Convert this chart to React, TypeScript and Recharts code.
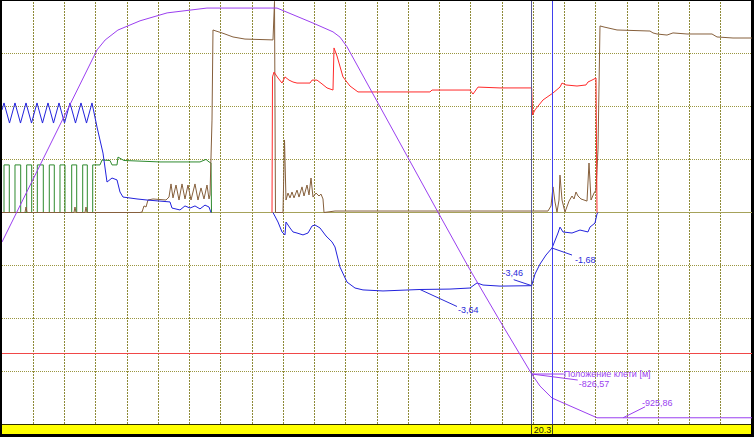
import React from 'react';
import { ComposedChart, Line, XAxis, YAxis, ReferenceLine, ReferenceDot } from 'recharts';

// time axis (s), 1.2 s per division
const timeTicks = [0, 1.2, 2.4, 3.6, 4.8, 6, 7.2, 8.4, 9.6, 10.8, 12, 13.2, 14.4, 15.6, 16.8, 18, 19.2, 20.4, 21.6, 22.8, 24, 25.2, 26.4, 27.6, 28.8];
// horizontal grid rows on the signal axis (2.5 per division)
const gridRows = [-7.5, -5, -2.5, 2.5, 5, 7.5];

// Положение клети [м]
const purpleT = [0, 3.65, 3.96, 4.45, 5.30, 6.34, 7.87, 10.56, 11.94, 12.71, 12.98, 13.25, 16.74, 17.97, 19.12, 20.34, 20.66, 21.12, 22.85, 28.8];
const purpleV = [-527, -91, -68.5, -46, -25, -7, 4, 4, -30, -50, -62, -84, -459, -590, -706, -826.57, -854, -881, -925.86, -925.86];

const blueT = [
  0, 0.077, 0.288, 0.499, 0.710, 0.922, 1.133, 1.344, 1.555, 1.766, 1.978, 2.189, 2.400, 2.611, 2.822, 3.034, 3.245, 3.456,
  3.648, 3.878, 4.032, 4.224, 4.416, 4.531, 4.646, 5.184, 5.568, 6.451, 6.528, 6.835, 7.027, 7.219, 7.411, 7.603, 7.795, 7.949, 8.026,
  8.05,
  10.406, 10.598, 10.752, 10.867, 10.906, 11.059, 11.174, 11.328, 11.558, 11.750,
  11.904, 12.019, 12.211, 12.442, 12.672, 12.787, 12.979, 13.248, 13.555, 13.862,
  14.630, 16.051, 17.203, 17.971, 18.125, 18.240, 18.470, 19.123, 20.34, 20.467,
  20.659, 20.890, 21.120, 21.350, 21.427, 21.542, 21.888, 22.195, 22.502, 22.579,
  22.771, 22.848, 22.886,
];
const blueV = [
  4.85, 5.18, 4.23, 5.18, 4.23, 5.18, 4.23, 5.18, 4.23, 5.18, 4.23, 5.18, 4.23, 5.18, 4.23, 5.18, 4.23, 5.18,
  4.04, 2.81, 1.44, 1.63, 1.54, 0.97, 0.73, 0.64, 0.59, 0.50, 0.21, 0.12, 0.31, 0.21, 0.31, 0.17, 0.35, 0.26, 0,
  null,
  0, -0.45, -0.92, -1.06, -0.45, -0.73, -0.92, -0.97, -1.06, -0.97,
  -0.64, -0.59, -0.73, -1.11, -1.39, -1.63, -2.58, -3.29, -3.57, -3.66,
  -3.71, -3.64, -3.62, -3.57, -3.43, -3.33, -3.43, -3.48, -3.46, -2.91,
  -2.44, -2.01, -1.68, -0.97, -0.69, -0.92, -0.97, -0.83, -0.92, -0.69,
  -0.50, -0.07, 0,
];

const greenT = [
  0, 0.077, 0.077, 0.280, 0.280, 0.499, 0.499, 0.718, 0.718, 0.948, 0.948, 1.140, 1.140, 1.356, 1.356, 1.586, 1.586,
  1.816, 1.816, 2.008, 2.008, 2.227, 2.227, 2.419, 2.419, 2.676, 2.676, 2.868, 2.868, 3.099, 3.099, 3.276, 3.276, 3.483, 3.483,
  3.763, 3.840, 4.147, 4.224, 4.416, 4.454, 4.608, 4.685, 6.067, 7.603, 7.834, 7.949, 8.026, 8.045,
];
const greenV = [
  0, 0, 2.25, 2.25, 0, 0, 2.25, 2.25, 0, 0, 2.25, 2.25, 0, 0, 2.25, 2.25, 0,
  0, 2.25, 2.25, 0, 0, 2.25, 2.25, 0, 0, 2.25, 2.25, 0, 0, 2.25, 2.25, 0, 0, 2.25,
  2.25, 2.48, 2.46, 2.25, 2.25, 2.62, 2.51, 2.46, 2.39, 2.39, 2.51, 2.39, 2.34, 0,
];

const brownT = [
  0, 0.883, 0.922, 0.960, 2.765, 2.803, 2.842, 3.187, 3.226, 3.264,
  5.299, 5.376, 5.453, 5.530, 5.606, 5.798, 6.298, 6.413, 6.490, 6.566,
  6.682, 6.797, 6.912, 7.027, 7.142, 7.258, 7.411, 7.526, 7.642, 7.757,
  7.872, 7.949, 7.987, 8.064, 8.102, 8.218, 8.448, 8.870, 9.331, 10.406,
  10.464, 10.502, 10.790, 10.848, 10.906, 10.982, 11.059, 11.136, 11.213, 11.328,
  11.405, 11.520, 11.597, 11.712, 11.789, 11.866, 11.942, 12.058, 12.173, 12.250,
  12.326, 12.365, 12.787, 20.966, 21.082, 21.158, 21.235, 21.312, 21.389, 21.427,
  21.504, 21.619, 21.773, 21.888, 21.965, 22.042, 22.118, 22.234, 22.464, 22.541,
  22.618, 22.733, 22.810, 22.886, 22.963, 23.117, 23.616, 24.883, 24.998, 25.152,
  25.536, 25.766, 26.304, 27.264, 27.456, 28.070, 28.8,
];
const brownV = [
  0, 0, 0.26, 0, 0, 0.26, 0, 0, 0.26, 0,
  0, 0.02, 0.31, 0.26, 0.59, 0.64, 0.59, 0.73, 1.35, 0.69,
  1.30, 0.59, 1.35, 0.64, 1.30, 0.59, 1.35, 0.59, 1.16, 0.64,
  1.30, 0.64, 0.83, 4.37, 8.63, 8.58, 8.49, 8.30, 8.20, 8.16,
  9.98, 0, 0, 3.43, 0.59, 0.92, 0.69, 0.97, 0.69, 1.06,
  0.73, 1.21, 0.78, 1.30, 0.83, 1.63, 0.73, 0.92, 0.78, 0.87,
  0.64, 0, 0.07, 0.07, 0.31, 1.21, 0.50, 0.02, 0.59, 1.77,
  0.59, 0.02, 0.54, 0.78, 0.64, 0.97, 0.78, 0.64, 0.54, 2.34,
  0.59, 0.92, 1.06, 2.96, 8.82, 8.77, 8.63, 8.58, 8.49, 8.44,
  8.39, 8.49, 8.44, 8.44, 8.30, 8.25, 8.25,
];

const redT = [
  10.368, 10.387, 10.445, 10.598, 10.752, 10.867, 11.021, 11.174, 11.328, 11.827,
  11.904, 12.096, 12.288, 12.480, 12.710, 12.749, 12.864, 13.094, 13.363, 13.670,
  16.435, 16.512, 17.971, 18.086, 18.278, 19.123, 20.34, 20.37, 20.467, 20.774,
  21.158, 21.427, 21.504, 21.658, 22.080, 22.426, 22.502, 22.656, 22.810, 22.848,
];
const redV = [
  0, 6.41, 6.64, 6.36, 6.12, 6.41, 6.26, 6.17, 6.12, 6.12,
  6.26, 6.26, 6.08, 5.89, 5.79, 7.78, 7.40, 6.41, 5.98, 5.70,
  5.70, 5.79, 5.79, 5.60, 5.93, 5.89, 5.89, 4.61, 4.85, 5.32,
  5.65, 5.93, 6.12, 6.03, 5.98, 6.03, 6.17, 6.26, 6.36, 0,
];

// position limit line [м]
const limitPosition = [-780];
const cursorMain = 20.34;
const cursorMainLabel = '20.3';
const cursorSecond = 21.12;

// annotation values
const notes = [
  { t: 16.051, v: -3.64, axis: 'aux', text: '-3,64' },
  { t: 20.34, v: -3.46, axis: 'aux', text: '-3,46' },
  { t: 21.12, v: -1.68, axis: 'aux', text: '-1,68' },
  { t: 20.34, v: -826.57, axis: 'pos', text: 'Положение клети [м]' },
  { t: 20.34, v: -826.57, axis: 'pos', text: '-826,57' },
  { t: 23.85, v: -925.86, axis: 'pos', text: '-925,86' },
];

// label leader geometry (px offsets) — styling only
const noteLayout = [
  { lx: 37, ly: 17, tx: 38, ty: 21, anchor: 'start', color: '#2a2ad8' },
  { lx: -18, ly: -6, tx: -19, ty: -12.5, anchor: 'middle', color: '#2a2ad8' },
  { lx: 20, ly: 7, tx: 23, ty: 11.5, anchor: 'start', color: '#2a2ad8' },
  { lx: 32, ly: 0, tx: 32, ty: -0.5, anchor: 'start', color: '#9b3ff0' },
  { lx: 46, ly: 6, tx: 47, ty: 9.8, anchor: 'start', color: '#9b3ff0' },
  { lx: 22, ly: -11, tx: 19, ty: -14.5, anchor: 'start', color: '#9b3ff0' },
];

const zip = (ts: number[], vs: (number | null)[]) => ts.map((t, i) => ({ t, v: vs[i] }));
const purpleData = zip(purpleT, purpleV);
const blueData = zip(blueT, blueV);
const greenData = zip(greenT, greenV);
const brownData = zip(brownT, brownV);
const redData = zip(redT, redV);
const limitData = [{ t: 0, v: limitPosition[0] }, { t: 28.8, v: limitPosition[0] }];

const FONT = '"Liberation Sans", Arial, sans-serif';
const GRID = '#9a9640';
const GRID_V = '#8e8a38';

function NoteLabel(props: any) {
  const { viewBox, layout, text } = props;
  if (!viewBox) return null;
  const cx = viewBox.x + (viewBox.width || 0) / 2;
  const cy = viewBox.y + (viewBox.height || 0) / 2;
  return (
    <g>
      <line x1={cx} y1={cy} x2={cx + layout.lx} y2={cy + layout.ly} stroke={layout.color} strokeWidth={1} />
      <text x={cx + layout.tx} y={cy + layout.ty} fill={layout.color} fontSize={9} fontFamily={FONT}
        textAnchor={layout.anchor} dominantBaseline="central">{text}</text>
    </g>
  );
}

function CursorTail(props: any) {
  const { viewBox, text } = props;
  if (!viewBox) return null;
  const x = viewBox.x;
  const bottom = viewBox.y + viewBox.height;
  return (
    <g>
      <line x1={x} y1={bottom} x2={x} y2={bottom + 10} stroke="#404020" strokeWidth={1} shapeRendering="crispEdges" />
      {text ? (
        <text x={x + 2} y={bottom + 5.5} fontSize={9} fontFamily={FONT} fill="#202000" dominantBaseline="central">{text}</text>
      ) : null}
    </g>
  );
}

export default function App() {
  return (
    <div style={{ position: 'absolute', left: 0, top: 0, width: 754, height: 437, background: '#000', overflow: 'hidden' }}>
      <div style={{ position: 'absolute', left: 2, top: 1, width: 749, height: 433, background: '#fff' }} />
      <div style={{ position: 'absolute', left: 2, top: 424, width: 749, height: 9, background: '#ffff00', borderTop: '1px solid #303000' }} />
      <div style={{ position: 'absolute', left: 0, top: 0 }}>
        <ComposedChart width={754} height={436} margin={{ top: 1, right: 2, bottom: 12, left: 2 }}>
          <XAxis xAxisId="t" type="number" dataKey="t" domain={[0, 28.8]} ticks={timeTicks} hide allowDataOverflow />
          <YAxis yAxisId="pos" type="number" domain={[-940, 20]} hide allowDataOverflow />
          <YAxis yAxisId="aux" type="number" domain={[-10, 10]} hide allowDataOverflow />
          {timeTicks.slice(1, -1).map((c) => (
            <ReferenceLine key={'v' + c} xAxisId="t" yAxisId="aux" x={c} stroke={GRID_V} strokeDasharray="2 1" shapeRendering="crispEdges" />
          ))}
          {gridRows.map((r) => (
            <ReferenceLine key={'h' + r} xAxisId="t" yAxisId="aux" y={r} stroke={GRID} strokeDasharray="1 1" shapeRendering="crispEdges" />
          ))}
          <ReferenceLine xAxisId="t" yAxisId="aux" y={0} stroke="#a6a25a" strokeWidth={1} shapeRendering="crispEdges" />
          <Line xAxisId="t" yAxisId="pos" data={limitData} dataKey="v" type="linear" stroke="#f04848" strokeWidth={1.2} dot={false} isAnimationActive={false} />
          <Line xAxisId="t" yAxisId="aux" data={greenData} dataKey="v" type="linear" stroke="#2e8a2e" strokeWidth={1} dot={false} isAnimationActive={false} />
          <Line xAxisId="t" yAxisId="aux" data={brownData} dataKey="v" type="linear" stroke="#86603c" strokeWidth={1} dot={false} isAnimationActive={false} />
          <Line xAxisId="t" yAxisId="aux" data={redData} dataKey="v" type="linear" stroke="#ff2a2a" strokeWidth={1} dot={false} isAnimationActive={false} />
          <Line xAxisId="t" yAxisId="aux" data={blueData} dataKey="v" type="linear" stroke="#2222dd" strokeWidth={1} dot={false} isAnimationActive={false} connectNulls={false} />
          <Line xAxisId="t" yAxisId="pos" data={purpleData} dataKey="v" type="linear" stroke="#9b3ff0" strokeWidth={1} dot={false} isAnimationActive={false} />
          <ReferenceLine xAxisId="t" yAxisId="aux" x={cursorMain} stroke="#5a5a96" strokeWidth={1} shapeRendering="crispEdges" label={<CursorTail text={cursorMainLabel} />} />
          <ReferenceLine xAxisId="t" yAxisId="aux" x={cursorSecond} stroke="#4040ee" strokeWidth={1} shapeRendering="crispEdges" label={<CursorTail />} />
          {notes.map((n, i) => (
            <ReferenceDot key={i} xAxisId="t" yAxisId={n.axis} x={n.t} y={n.v} r={1} fill="none" stroke="none"
              ifOverflow="visible" label={<NoteLabel layout={noteLayout[i]} text={n.text} />} />
          ))}
        </ComposedChart>
      </div>
    </div>
  );
}
